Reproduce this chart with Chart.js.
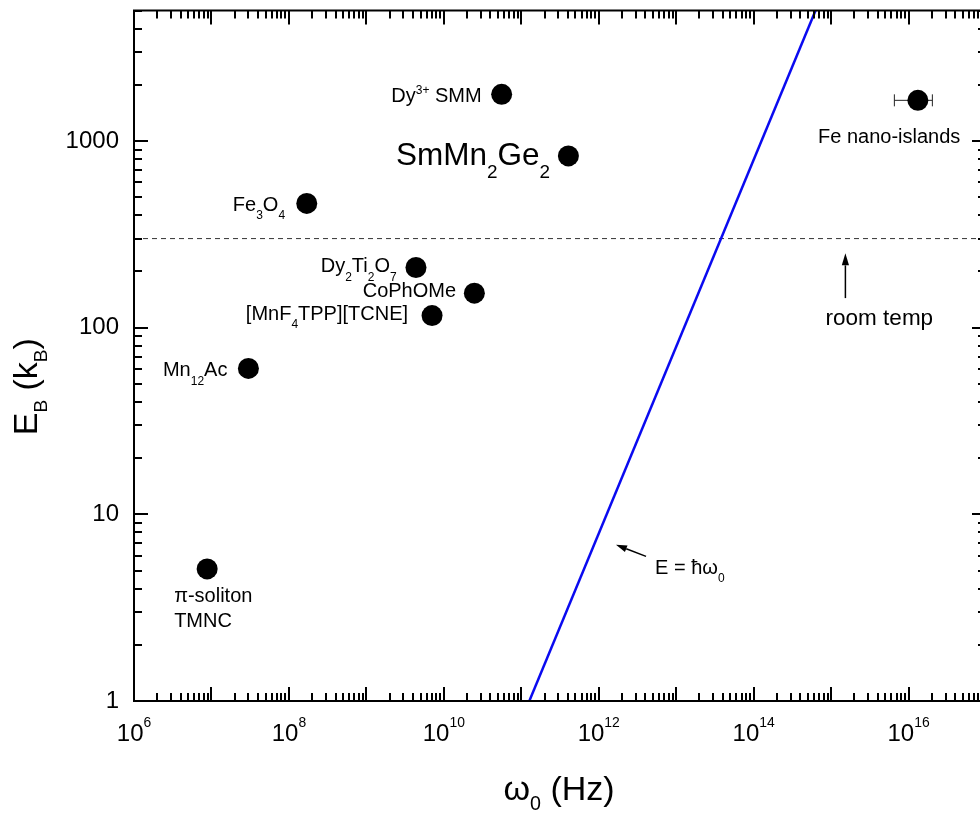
<!DOCTYPE html>
<html><head><meta charset="utf-8">
<script src="https://cdn.jsdelivr.net/npm/chart.js@4.4.1/dist/chart.umd.min.js"></script>
<style>
html,body{margin:0;padding:0;background:#fff;overflow:hidden;width:980px;height:814px;}
#wrap{position:absolute;left:0;top:0;width:1000px;height:814px;}
canvas{display:block;}
</style></head><body>
<div id="wrap"><canvas id="c" width="1000" height="814"></canvas></div>
<script>
const FONT = '"Liberation Sans", Arial, Helvetica, sans-serif';

// ---------------- data ----------------
const materials = ['π-soliton TMNC', 'Mn12Ac', 'Fe3O4', 'Dy2Ti2O7', 'CoPhOMe', '[MnF4TPP][TCNE]', 'Dy3+ SMM', 'SmMn2Ge2'];
const omega0Hz  = [8.8e6, 3.0e7, 1.70e8, 4.37e9, 2.48e10, 7.05e9, 5.58e10, 4.06e11];
const barrierK  = [5.1, 60.5, 463, 210, 153, 116, 1778, 832];

const feIslandsOmega = [1.32e16];
const feIslandsBarrier = [1651];
const feIslandsOmegaLow = [6.56e15];
const feIslandsOmegaHigh = [2.03e16];

const quantumOmega = [1.27e11, 6.3e14];   // E = hbar*omega0
const quantumE = [1, 5000];

const roomTempK = 300;
const xRange = [1e6, 1e17];
const yRange = [1, 5000];
const xTickExponents = [6, 8, 10, 12, 14, 16];
const yTickLabels = [1, 10, 100, 1000];

// ---------------- layout of annotations ----------------
// labels: index into materials, rich-text lines, pixel offset from point centre
const pointLabels = [
  {i:0, align:'left',  dx:-33,   dy:33.4, size:20, lines:[[['π-soliton',0]], [['TMNC',0]]], lh:25},
  {i:1, align:'right', dx:-21,   dy:8,    size:20, lines:[[['Mn',0],['12',1],['Ac',0]]]},
  {i:2, align:'right', dx:-21.7, dy:7.3,  size:20, lines:[[['Fe',0],['3',1],['O',0],['4',1]]]},
  {i:3, align:'right', dx:-19.3, dy:4.7,  size:20, lines:[[['Dy',0],['2',1],['Ti',0],['2',1],['O',0],['7',1]]]},
  {i:4, align:'right', dx:-18.3, dy:4,    size:20, lines:[[['CoPhOMe',0]]]},
  {i:5, align:'right', dx:-24,   dy:4,    size:20, lines:[[['[MnF',0],['4',1],['TPP][TCNE]',0]]]},
  {i:6, align:'right', dx:-20,   dy:7.7,  size:20, lines:[[['Dy',0],['3+',2],[' SMM',0]]]},
  {i:7, align:'right', dx:-18.3, dy:8.7,  size:31.5, lines:[[['SmMn',0],['2',1],['Ge',0],['2',1]]]},
];
const feLabel = {align:'center', dx:-28.7, dy:42.4, size:20, lines:[[['Fe nano-islands',0]]]};
const roomArrow = {x:1.53e15, yTip:250, yTail:144, textX:4.2e15, textY:103, size:22.5};
const quantumArrow = {tipX:1.67e12, tipY:6.87, tailX:4.08e12, tailY:5.95, textX:5.33e12, textY:4.81, size:20};

// ---------------- helpers ----------------
function segFont(mode, size, ratio){ return (mode ? size*ratio : size) + 'px ' + FONT; }
function richWidth(ctx, segs, size, ratio){
  let w = 0;
  for (const [t, m] of segs){ ctx.font = segFont(m, size, ratio); w += ctx.measureText(t).width; }
  return w;
}
function drawRich(ctx, segs, x, y, size, align, o){
  o = Object.assign({ratio:0.6, subDy:0.42, supDy:0.42}, o || {});
  const w = richWidth(ctx, segs, size, o.ratio);
  let cx = align === 'right' ? x - w : (align === 'center' ? x - w/2 : x);
  ctx.textAlign = 'left'; ctx.textBaseline = 'alphabetic';
  for (const [t, m] of segs){
    ctx.font = segFont(m, size, o.ratio);
    const dy = m === 1 ? o.subDy*size : (m === 2 ? -o.supDy*size : 0);
    ctx.fillText(t, cx, y + dy);
    cx += ctx.measureText(t).width;
  }
}
function arrow(ctx, x1, y1, x2, y2, len, halfW, lw){
  const ang = Math.atan2(y2-y1, x2-x1);
  const bx = x2 - len*Math.cos(ang), by = y2 - len*Math.sin(ang);
  ctx.beginPath(); ctx.lineWidth = lw; ctx.moveTo(x1, y1); ctx.lineTo(bx, by); ctx.stroke();
  ctx.beginPath();
  ctx.moveTo(x2, y2);
  ctx.lineTo(bx + halfW*Math.sin(ang), by - halfW*Math.cos(ang));
  ctx.lineTo(bx - halfW*Math.sin(ang), by + halfW*Math.cos(ang));
  ctx.closePath(); ctx.fill();
}
function logTicks(min, max){
  const out = [];
  for (let e = Math.floor(Math.log10(min)); e <= Math.ceil(Math.log10(max)); e++){
    for (let m = 1; m < 10; m++){
      const v = m*Math.pow(10, e);
      if (v >= min*0.9999 && v <= max*1.0001) out.push({v, major: m === 1});
    }
  }
  return out;
}

const decor = {
  id: 'decor',
  beforeDatasetsDraw(chart){
    const ctx = chart.ctx, xs = chart.scales.x, ys = chart.scales.y;
    ctx.save();
    ctx.strokeStyle = '#222'; ctx.lineWidth = 1;
    feIslandsOmega.forEach((_, k) => {
      const y = ys.getPixelForValue(feIslandsBarrier[k]);
      const xl = xs.getPixelForValue(feIslandsOmegaLow[k]), xh = xs.getPixelForValue(feIslandsOmegaHigh[k]);
      ctx.beginPath();
      ctx.moveTo(xl, y); ctx.lineTo(xh, y);
      ctx.moveTo(xl, y-6); ctx.lineTo(xl, y+6);
      ctx.moveTo(xh, y-6); ctx.lineTo(xh, y+6);
      ctx.stroke();
    });
    ctx.restore();
  },
  afterDraw(chart){
    const ctx = chart.ctx, xs = chart.scales.x, ys = chart.scales.y, a = chart.chartArea;
    ctx.save();
    ctx.fillStyle = '#000'; ctx.strokeStyle = '#000';
    // frame
    ctx.lineWidth = 2;
    ctx.strokeRect(a.left, a.top, a.right - a.left, a.bottom - a.top);
    // inward ticks on all sides
    ctx.lineWidth = 2;
    ctx.beginPath();
    for (const t of logTicks(xs.min, xs.max)){
      const px = Math.round(xs.getPixelForValue(t.v));
      const L = t.major ? 14 : 8;
      ctx.moveTo(px, a.bottom); ctx.lineTo(px, a.bottom - L);
      ctx.moveTo(px, a.top); ctx.lineTo(px, a.top + L);
    }
    for (const t of logTicks(ys.min, ys.max)){
      const py = Math.round(ys.getPixelForValue(t.v));
      const L = t.major ? 14 : 8;
      ctx.moveTo(a.left, py); ctx.lineTo(a.left + L, py);
      ctx.moveTo(a.right, py); ctx.lineTo(a.right - L, py);
    }
    ctx.stroke();
    // tick labels
    for (const v of yTickLabels){
      const py = ys.getPixelForValue(v);
      ctx.font = '24px ' + FONT; ctx.textAlign = 'right'; ctx.textBaseline = 'alphabetic';
      ctx.fillText(String(v), a.left - 15, py + 6.8);
    }
    for (const e of xTickExponents){
      const px = xs.getPixelForValue(Math.pow(10, e));
      drawRich(ctx, [['10',0],[String(e),2]], px, a.bottom + 39.7, 24, 'center', {ratio:0.58, supDy:0.56});
    }
    // axis titles
    drawRich(ctx, [['ω',0],['0',1],[' (Hz)',0]], 559, 800, 34, 'center', {ratio:0.58, subDy:0.3});
    ctx.save();
    ctx.translate(37.3, 386.7); ctx.rotate(-Math.PI/2);
    drawRich(ctx, [['E',0],['B',1],[' (k',0],['B',1],[')',0]], 0, 0, 34, 'center', {ratio:0.56, subDy:0.28});
    ctx.restore();
    // point labels
    for (const L of pointLabels){
      const px = xs.getPixelForValue(omega0Hz[L.i]), py = ys.getPixelForValue(barrierK[L.i]);
      L.lines.forEach((segs, j) => drawRich(ctx, segs, px + L.dx, py + L.dy + j*(L.lh||0), L.size, L.align));
    }
    {
      const px = xs.getPixelForValue(feIslandsOmega[0]), py = ys.getPixelForValue(feIslandsBarrier[0]);
      drawRich(ctx, feLabel.lines[0], px + feLabel.dx, py + feLabel.dy, feLabel.size, feLabel.align);
    }
    // room temperature arrow + text
    {
      const x = xs.getPixelForValue(roomArrow.x);
      arrow(ctx, x, ys.getPixelForValue(roomArrow.yTail), x, ys.getPixelForValue(roomArrow.yTip), 12, 3.6, 1.5);
      drawRich(ctx, [['room temp',0]], xs.getPixelForValue(roomArrow.textX), ys.getPixelForValue(roomArrow.textY), roomArrow.size, 'center');
    }
    // E = hbar omega arrow + text
    {
      const q = quantumArrow;
      arrow(ctx, xs.getPixelForValue(q.tailX), ys.getPixelForValue(q.tailY), xs.getPixelForValue(q.tipX), ys.getPixelForValue(q.tipY), 11, 3.6, 1.5);
      drawRich(ctx, [['E = ',0],['ħω',0],['0',1]], xs.getPixelForValue(q.textX), ys.getPixelForValue(q.textY), q.size, 'left');
    }
    ctx.restore();
  }
};

new Chart(document.getElementById('c'), {
  type: 'scatter',
  data: { datasets: [
    { label: 'materials', data: omega0Hz.map((x, i) => ({x, y: barrierK[i]})),
      pointRadius: 10.5, pointBackgroundColor: '#000', pointBorderWidth: 0, order: 0 },
    { label: 'Fe nano-islands', data: feIslandsOmega.map((x, i) => ({x, y: feIslandsBarrier[i]})),
      pointRadius: 10.5, pointBackgroundColor: '#000', pointBorderWidth: 0, order: 0 },
    { label: 'E = ħω0', data: quantumOmega.map((x, i) => ({x, y: quantumE[i]})), showLine: true,
      borderColor: '#0a0af0', borderWidth: 2.5, pointRadius: 0, order: 2 },
    { label: 'room temp', data: xRange.map(x => ({x, y: roomTempK})), showLine: true,
      borderColor: '#333', borderWidth: 1, borderDash: [5, 4], pointRadius: 0, order: 3 }
  ]},
  options: {
    responsive: false, devicePixelRatio: 1, animation: false, events: [],
    layout: { padding: { left: 134, right: 14, top: 8, bottom: 113 } },
    plugins: { legend: { display: false }, tooltip: { enabled: false } },
    scales: {
      x: { type: 'logarithmic', min: xRange[0], max: xRange[1],
           grid: { display: false, drawTicks: false }, border: { display: false },
           ticks: { display: false }, title: { display: false },
           afterFit(s){ s.height = 0; } },
      y: { type: 'logarithmic', min: yRange[0], max: yRange[1],
           grid: { display: false, drawTicks: false }, border: { display: false },
           ticks: { display: false }, title: { display: false },
           afterFit(s){ s.width = 0; } }
    }
  },
  plugins: [decor]
});
</script>
</body></html>
